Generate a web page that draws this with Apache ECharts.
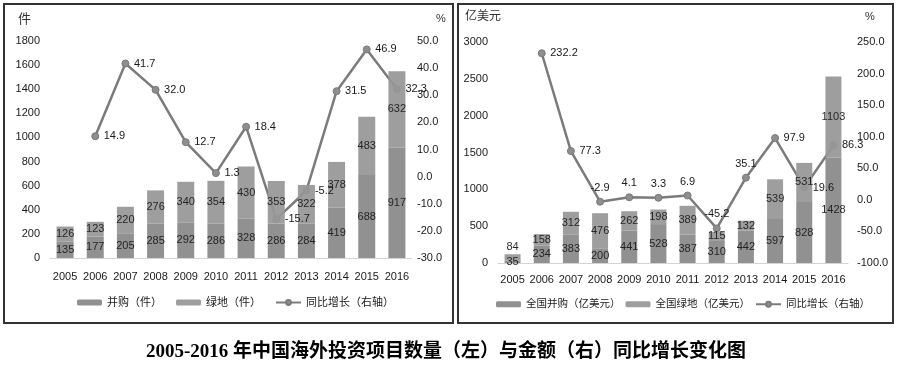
<!DOCTYPE html>
<html><head><meta charset="utf-8">
<script src="https://cdn.jsdelivr.net/npm/echarts@6/dist/echarts.min.js"></script>
<style>html,body{margin:0;padding:0;background:#fff}#c{width:899px;height:367px}</style>
</head><body><div id="c"></div>
<script>
// ---- data ----
const years = ['2005','2006','2007','2008','2009','2010','2011','2012','2013','2014','2015','2016'];
const countMA = [135,177,205,285,292,286,328,286,284,419,688,917];
const countGreen = [126,123,220,276,340,354,430,353,322,378,483,632];
const countGrowth = [null,14.9,41.7,32.0,12.7,1.3,18.4,-15.7,-5.2,31.5,46.9,32.3];
const amountMA = [35,234,383,200,441,528,387,310,442,597,828,1428];
const amountGreen = [84,158,312,476,262,198,389,115,132,539,531,1103];
const amountGrowth = [null,232.2,77.3,-2.9,4.1,3.3,6.9,-45.2,35.1,97.9,19.6,86.3];
const leftNames = ['并购（件）','绿地（件）','同比增长（右轴）'];
const rightNames = ['全国并购（亿美元）','全国绿地（亿美元）','同比增长（右轴）'];
const caption = '2005-2016 年中国海外投资项目数量（左）与金额（右）同比增长变化图';

// ---- label placement (style only) ----
const rightGrowthLabelPos = ['right','right','right','top','top','top','top','top','top','right','right','right'];
const rightGreenLabelPos = ['top','inside','inside','inside','inside','inside','inside','inside','inside','inside','inside','inside'];

const FONT = '"Liberation Sans", Arial, "Noto Sans CJK SC", sans-serif';
const cMA = '#898989', cGreen = '#979797', cLine = '#7b7b7b';
const txt = '#1a1a1a';

const chart = echarts.init(document.getElementById('c'));

function fmt1(v){ return v == null ? '' : Number(v).toFixed(1); }
function toNull(a){ return a.map(v => v == null ? '-' : v); }

function barSeries(name, data, color, xi, yi, width, posArr){
  return {
    name, type:'bar', stack:'s'+xi, xAxisIndex:xi, yAxisIndex:yi, barWidth:width, z:3,
    itemStyle:{color, opacity:0.93},
    label:{show:true, position:'inside', color:txt, fontSize:11, fontFamily:FONT},
    data: data.map((v,i) => posArr ? {value:v, label:{position:posArr[i], distance:2}} : v)
  };
}
function lineSeries(name, data, xi, yi){
  return {
    name, type:'line', xAxisIndex:xi, yAxisIndex:yi, z:2,
    symbol:'circle', symbolSize:7, connectNulls:false,
    lineStyle:{color:cLine, width:2.5}, itemStyle:{color:'#8e8e8e', borderColor:'#7a7a7a', borderWidth:1},
    label:{show:false}, data: toNull(data)
  };
}
function labelSeries(data, xi, yi, posArr){
  return {
    type:'line', xAxisIndex:xi, yAxisIndex:yi, z:6, silent:true,
    symbol:'circle', symbolSize:1, showSymbol:true, lineStyle:{opacity:0}, itemStyle:{color:'rgba(0,0,0,0)'},
    label:{show:true, position:'right', distance:8, color:txt, fontSize:11, fontFamily:FONT, formatter:p=>fmt1(p.value)},
    data: data.map((v,i) => v == null ? '-' : (posArr ? {value:v, label:{position:posArr[i]}} : v))
  };
}

function xAxis(gi, margin){
  return {type:'category', gridIndex:gi, data:years,
    axisLine:{lineStyle:{color:'#d4d4d4', width:1}}, axisTick:{show:false},
    axisLabel:{color:txt, fontSize:11, fontFamily:FONT, margin, interval:0}};
}
function yAxis(gi, min, max, interval, pos, margin, formatter){
  return {type:'value', gridIndex:gi, position:pos, min, max, interval,
    axisLine:{show:false}, axisTick:{show:false}, splitLine:{show:false},
    axisLabel:{color:txt, fontSize:11, fontFamily:FONT, margin, formatter}};
}

const option = {
  backgroundColor:'#fff',
  animation:false,
  title:{text:caption, left:141, top:338,
    textStyle:{fontSize:19, fontWeight:'bold', color:'#000', fontFamily:'"Liberation Serif", "Times New Roman", "Noto Sans CJK SC", serif'}},
  grid:[
    {left:50, top:41, width:362, height:217},
    {left:498, top:42, width:350, height:221}
  ],
  xAxis:[xAxis(0,13), xAxis(1,11)],
  yAxis:[
    yAxis(0, 0, 1800, 200, 'left', 10, v=>String(v)),
    yAxis(0, -30, 50, 10, 'right', 5, v=>v.toFixed(1)),
    yAxis(1, 0, 3000, 500, 'left', 10, v=>String(v)),
    yAxis(1, -100, 250, 50, 'right', 9, v=>v.toFixed(1))
  ],
  legend:[
    {data:leftNames, left:72, top:292, width:380, itemWidth:25, itemHeight:6, itemGap:14,
      textStyle:{fontSize:11, color:txt, fontFamily:FONT}},
    {data:rightNames, left:491, top:294, width:420, itemWidth:25, itemHeight:6, itemGap:5,
      textStyle:{fontSize:10.5, color:txt, fontFamily:FONT}}
  ],
  graphic:[
    {type:'rect', shape:{x:4, y:4, width:449, height:319}, style:{fill:'none', stroke:'#333', lineWidth:2}, z:100},
    {type:'rect', shape:{x:458, y:4, width:435, height:319}, style:{fill:'none', stroke:'#333', lineWidth:2}, z:100},
    {type:'text', left:18, top:13, style:{text:'件', fontSize:13, fill:'#333', fontFamily:FONT}},
    {type:'text', left:436, top:13, style:{text:'%', fontSize:11, fill:'#333', fontFamily:FONT}},
    {type:'text', left:465, top:11, style:{text:'亿美元', fontSize:12, fill:'#333', fontFamily:FONT}},
    {type:'text', left:865, top:11, style:{text:'%', fontSize:11, fill:'#333', fontFamily:FONT}}
  ],
  series:[
    barSeries(leftNames[0], countMA, cMA, 0, 0, 17),
    barSeries(leftNames[1], countGreen, cGreen, 0, 0, 17),
    lineSeries(leftNames[2], countGrowth, 0, 1),
    labelSeries(countGrowth, 0, 1),
    barSeries(rightNames[0], amountMA, cMA, 1, 2, 16),
    barSeries(rightNames[1], amountGreen, cGreen, 1, 2, 16, rightGreenLabelPos),
    lineSeries(rightNames[2], amountGrowth, 1, 3),
    labelSeries(amountGrowth, 1, 3, rightGrowthLabelPos)
  ]
};
chart.setOption(option);
</script></body></html>
